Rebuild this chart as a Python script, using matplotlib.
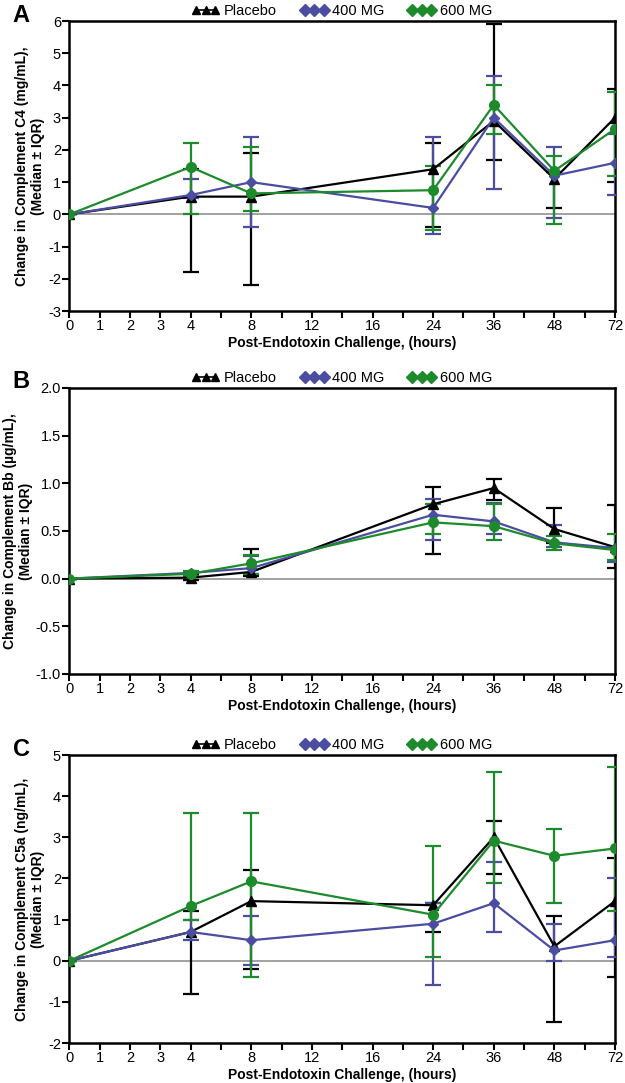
import numpy as np
import matplotlib
matplotlib.use("Agg")
import matplotlib.pyplot as plt
from matplotlib.lines import Line2D

plt.rcParams["font.family"] = ["Liberation Sans", "DejaVu Sans"]

# sampling times (hours) and the axis tick labels
hours = [0, 4, 8, 24, 36, 48, 72]
tick_hours = [0, 1, 2, 3, 4, 8, 12, 16, 24, 36, 48, 72]
tick_slots = [0, 1, 2, 3, 4, 6, 8, 10, 12, 14, 16, 18]

groups = ["Placebo", "400 MG", "600 MG"]

# Panel A: complement C4 (mg/mL) median, Q1, Q3
c4_med = {
    "Placebo": [0, 0.55, 0.55, 1.4, 2.9, 1.1, 3.0],
    "400 MG": [0, 0.6, 1.0, 0.2, 3.0, 1.2, 1.6],
    "600 MG": [0, 1.47, 0.65, 0.75, 3.4, 1.35, 2.65],
}
c4_lo = {
    "Placebo": [0, -1.8, -2.2, -0.4, 1.7, 0.2, 1.0],
    "400 MG": [0, 0.5, -0.4, -0.6, 0.8, -0.1, 0.6],
    "600 MG": [0, 0.0, 0.1, -0.5, 2.5, -0.3, 1.2],
}
c4_hi = {
    "Placebo": [0, 1.4, 1.9, 2.2, 5.9, 1.3, 3.9],
    "400 MG": [0, 1.1, 2.4, 2.4, 4.3, 2.1, 2.5],
    "600 MG": [0, 2.2, 2.1, 1.5, 4.0, 1.8, 3.8],
}

# Panel B: complement Bb (ug/mL)
bb_med = {
    "Placebo": [0, 0.01, 0.07, 0.78, 0.95, 0.52, 0.33],
    "400 MG": [0, 0.06, 0.11, 0.67, 0.60, 0.38, 0.32],
    "600 MG": [0, 0.05, 0.16, 0.59, 0.55, 0.37, 0.30],
}
bb_lo = {
    "Placebo": [0, -0.01, 0.03, 0.26, 0.82, 0.37, 0.11],
    "400 MG": [0, 0.03, 0.05, 0.41, 0.47, 0.33, 0.17],
    "600 MG": [0, 0.03, 0.05, 0.47, 0.40, 0.30, 0.19],
}
bb_hi = {
    "Placebo": [0, 0.05, 0.31, 0.96, 1.04, 0.74, 0.77],
    "400 MG": [0, 0.07, 0.24, 0.84, 0.79, 0.56, 0.33],
    "600 MG": [0, 0.08, 0.25, 0.78, 0.78, 0.45, 0.47],
}

# Panel C: complement C5a (ng/mL)
c5a_med = {
    "Placebo": [0, 0.7, 1.45, 1.35, 3.0, 0.35, 1.45],
    "400 MG": [0, 0.7, 0.5, 0.9, 1.4, 0.25, 0.5],
    "600 MG": [0, 1.33, 1.93, 1.12, 2.92, 2.55, 2.73],
}
c5a_lo = {
    "Placebo": [0, -0.8, -0.2, 0.7, 2.1, -1.5, -0.4],
    "400 MG": [0, 0.5, -0.1, -0.6, 0.7, 0.0, 0.1],
    "600 MG": [0, 1.0, -0.4, 0.1, 1.9, 1.4, 1.2],
}
c5a_hi = {
    "Placebo": [0, 1.2, 2.2, 1.4, 3.4, 1.1, 2.5],
    "400 MG": [0, 1.0, 1.1, 1.4, 2.4, 0.9, 2.0],
    "600 MG": [0, 3.6, 3.6, 2.8, 4.6, 3.2, 4.7],
}

colors = {"Placebo": "black", "400 MG": "#4a4da0", "600 MG": "#1d8a2c"}
markers = {"Placebo": "^", "400 MG": "D", "600 MG": "o"}
legend_markers = {"Placebo": "^", "400 MG": "D", "600 MG": "D"}
msizes = {"Placebo": 7, "400 MG": 5.5, "600 MG": 7}

panels = [
    ("A", c4_med, c4_lo, c4_hi, (-3, 6), np.arange(-3, 7, 1), "%d",
     "Change in Complement C4 (mg/mL),\n(Median \u00b1 IQR)",
     [0.111, 0.7128, 0.873, 0.2678]),
    ("B", bb_med, bb_lo, bb_hi, (-1, 2), np.arange(-1, 2.01, 0.5), "%.1f",
     "Change in Complement Bb (\u00b5g/mL),\n(Median \u00b1 IQR)",
     [0.111, 0.3777, 0.873, 0.2641]),
    ("C", c5a_med, c5a_lo, c5a_hi, (-2, 5), np.arange(-2, 6, 1), "%d",
     "Change in Complement C5a (ng/mL),\n(Median \u00b1 IQR)",
     [0.111, 0.0369, 0.873, 0.2659]),
]

fig = plt.figure(figsize=(6.25, 10.83), dpi=100)
x = np.interp(hours, tick_hours, tick_slots)

for letter, med, lo, hi, ylim, yticks, fmt, ylabel, rect in panels:
    ax = fig.add_axes(rect)
    ax.axhline(0, color="#9a9a9a", lw=1.3, zorder=1)
    for g in groups:
        m = np.array(med[g])
        err = [m - np.array(lo[g]), np.array(hi[g]) - m]
        ax.errorbar(x, m, yerr=err, color=colors[g], marker=markers[g],
                    ms=msizes[g], lw=1.6, elinewidth=1.6, capsize=6,
                    capthick=1.6, zorder=3)
    ax.set_xlim(0, 18)
    ax.set_ylim(*ylim)
    ax.set_xticks(range(19))
    labels = [""] * 19
    for h, s in zip(tick_hours, tick_slots):
        labels[s] = str(h)
    ax.set_xticklabels(labels)
    ax.set_yticks(yticks)
    ax.set_yticklabels([fmt % v for v in yticks])
    ax.tick_params(direction="out", length=5, width=1.5, labelsize=10.5, pad=1,
                   top=False, right=False)
    for sp in ax.spines.values():
        sp.set_linewidth(1.8)
    ax.set_xlabel("Post-Endotoxin Challenge, (hours)", fontsize=10,
                  fontweight="bold", labelpad=2)
    ax.set_ylabel(ylabel, fontsize=10, fontweight="bold", labelpad=2)

    handles = [Line2D([], [], color=colors[g], marker=legend_markers[g],
                      ms=6, lw=1.2) for g in groups]
    top = rect[1] + rect[3]
    fig.legend(handles, groups, loc="lower center",
               bbox_to_anchor=(rect[0] + rect[2] / 2, top + 3 / 1083),
               ncol=3, frameon=False, fontsize=10.5, numpoints=3,
               handlelength=1.9, handletextpad=0.3, columnspacing=1.6,
               borderpad=0.0, borderaxespad=0.0)
    fig.text(0.02, top + 6 / 1083, letter, fontsize=17,
             fontweight="bold", va="center")

fig.savefig("out.png", dpi=100)
